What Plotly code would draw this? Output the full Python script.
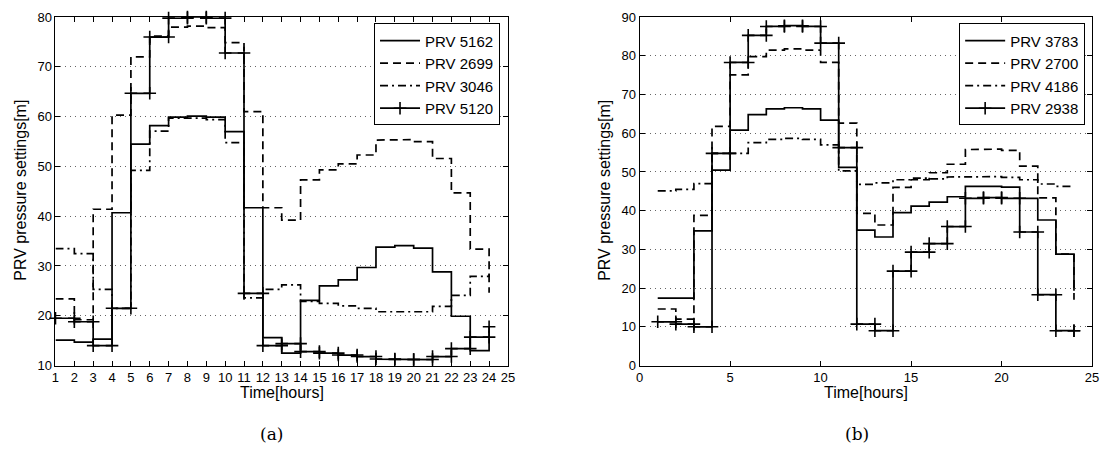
import plotly.graph_objects as go

# ---------------- data ----------------
hours = list(range(1, 25))

# (a)
prv_5162 = [15.1, 14.7, 15.3, 40.7, 54.5, 58.2, 59.9, 60.1, 59.9, 57.0, 41.7, 15.6,
            12.5, 23.1, 26.0, 27.2, 29.7, 33.8, 34.1, 33.6, 28.8, 19.9, 13.0, 15.5]
prv_2699 = [23.4, 19.2, 41.4, 60.3, 72.0, 76.2, 78.0, 78.2, 77.9, 74.9, 61.0, 41.7,
            39.2, 47.3, 49.3, 50.5, 52.3, 55.3, 55.4, 55.0, 51.6, 44.7, 33.4, 24.6]
prv_3046 = [33.5, 32.5, 25.3, 21.5, 49.2, 57.1, 59.7, 59.7, 59.4, 54.8, 23.6, 25.3,
            26.2, 22.9, 22.5, 22.0, 21.5, 20.8, 20.7, 20.8, 21.9, 24.1, 27.9, 28.5]
prv_5120 = [19.5, 18.8, 14.0, 21.5, 64.7, 76.0, 79.8, 80.0, 79.8, 72.8, 24.5, 14.0,
            14.4, 12.8, 12.5, 12.1, 11.8, 11.3, 11.2, 11.2, 11.8, 13.4, 15.7, 17.8]

# (b)
prv_3783 = [17.4, 17.4, 34.8, 50.5, 60.8, 64.8, 66.3, 66.6, 66.3, 63.4, 51.2, 35.0,
            33.2, 39.5, 41.2, 42.2, 43.6, 46.3, 46.3, 46.1, 43.2, 37.6, 28.8, 19.3]
prv_2700 = [14.6, 12.0, 38.8, 61.8, 75.1, 79.8, 81.5, 81.8, 81.5, 78.3, 62.6, 39.3,
            36.3, 46.0, 48.0, 49.8, 52.0, 55.8, 55.9, 55.6, 51.5, 43.3, 28.8, 17.0]
prv_4186 = [45.1, 45.5, 47.0, 54.8, 54.8, 57.6, 58.4, 58.7, 58.4, 57.0, 50.3, 46.8,
            47.2, 48.0, 48.4, 48.2, 48.7, 48.8, 48.8, 48.6, 48.0, 46.9, 46.3, 46.3]
prv_2938 = [11.3, 10.7, 10.0, 54.8, 78.3, 85.3, 87.6, 87.8, 87.6, 83.3, 56.3, 10.7,
            9.0, 24.4, 29.3, 31.5, 35.9, 43.2, 43.4, 43.2, 34.5, 18.3, 9.0, 9.0]

left_names = ["PRV 5162", "PRV 2699", "PRV 3046", "PRV 5120"]
right_names = ["PRV 3783", "PRV 2700", "PRV 4186", "PRV 2938"]

x_ticks_a = list(range(1, 26))
y_ticks_a = list(range(10, 81, 10))
x_ticks_b = list(range(0, 26, 5))
y_ticks_b = list(range(0, 91, 10))


def stairs(x, y):
    """MATLAB-style stairs: vertices of the step line."""
    xx, yy = [], []
    for i in range(len(x)):
        if i > 0:
            xx.append(x[i]); yy.append(y[i - 1])
        xx.append(x[i]); yy.append(y[i])
    return xx, yy


DASH = "8px,5px"
DASHDOT = "8px,4px,2px,4px"
styles = [("solid", False), (DASH, False), (DASHDOT, False), ("solid", True)]
LW = 1.7

fig = go.Figure()


def add_series(vals, name, style, xa, ya, legend):
    dash, mark = style
    xx, yy = stairs(hours, vals)
    fig.add_trace(go.Scatter(
        x=xx, y=yy, name=name, xaxis=xa, yaxis=ya, legend=legend,
        mode="lines+markers" if mark else "lines",
        line=dict(color="black", width=LW, dash=dash),
        marker=dict(symbol="cross-thin", size=9, color="black",
                    line=dict(color="black", width=1.6)) if mark else None,
        cliponaxis=False,
    ))


for vals, name, st in zip([prv_5162, prv_2699, prv_3046, prv_5120], left_names, styles):
    add_series(vals, name, st, "x", "y", "legend")
for vals, name, st in zip([prv_3783, prv_2700, prv_4186, prv_2938], right_names, styles):
    add_series(vals, name, st, "x2", "y2", "legend2")

W, H = 1107, 464
ydom = [1 - 370.5 / H, 1 - 10.5 / H]
axis_common = dict(
    showline=True, linecolor="black", linewidth=1, mirror="ticks",
    ticks="inside", ticklen=5, tickwidth=1, tickcolor="black",
    zeroline=False,
    tickfont=dict(family="Liberation Sans, Arial", size=13, color="black"),
)

leg_font = dict(family="Liberation Sans, Arial", size=15, color="black")

fig.update_layout(
    width=W, height=H,
    margin=dict(l=0, r=0, t=0, b=0),
    paper_bgcolor="white", plot_bgcolor="white",
    xaxis=dict(domain=[52 / W, 509 / W], range=[1, 25], tickvals=x_ticks_a,
               showgrid=False, anchor="y", **axis_common),
    yaxis=dict(domain=ydom, range=[10, 80], tickvals=y_ticks_a,
               showgrid=True, gridcolor="#666", griddash="1px,4px", gridwidth=1,
               anchor="x", **axis_common),
    xaxis2=dict(domain=[642 / W, 1099 / W], range=[0, 25], tickvals=x_ticks_b,
                showgrid=False, anchor="y2", **axis_common),
    yaxis2=dict(domain=ydom, range=[0, 90], tickvals=y_ticks_b,
                showgrid=True, gridcolor="#666", griddash="1px,4px", gridwidth=1,
                anchor="x2", **axis_common),
    legend=dict(x=501 / W, xanchor="right", y=1 - 17 / H, yanchor="top",
                bgcolor="white", bordercolor="black", borderwidth=1,
                font=leg_font, itemwidth=40, tracegroupgap=0),
    legend2=dict(x=1092 / W, xanchor="right", y=1 - 17 / H, yanchor="top",
                 bgcolor="white", bordercolor="black", borderwidth=1,
                 font=leg_font, itemwidth=40, tracegroupgap=0),
    showlegend=True,
)

lab_font = dict(family="Liberation Sans, Arial", size=16, color="black")
ser_font = dict(family="DejaVu Serif, Liberation Serif", size=17, color="black")
ann = [
    dict(text="Time[hours]", x=280.5 / W, y=1 - 398 / H, xref="paper", yref="paper",
         showarrow=False, font=lab_font, xanchor="center", yanchor="middle"),
    dict(text="Time[hours]", x=870.5 / W, y=1 - 398 / H, xref="paper", yref="paper",
         showarrow=False, font=lab_font, xanchor="center", yanchor="middle"),
    dict(text="PRV pressure settings[m]", x=17 / W, y=1 - 189 / H, xref="paper", yref="paper",
         showarrow=False, font=lab_font, textangle=-90, xanchor="center", yanchor="middle"),
    dict(text="PRV pressure settings[m]", x=607 / W, y=1 - 189 / H, xref="paper", yref="paper",
         showarrow=False, font=lab_font, textangle=-90, xanchor="center", yanchor="middle"),
    dict(text="(a)", x=270 / W, y=1 - 441 / H, xref="paper", yref="paper",
         showarrow=False, font=ser_font, xanchor="center", yanchor="middle"),
    dict(text="(b)", x=862 / W, y=1 - 441 / H, xref="paper", yref="paper",
         showarrow=False, font=ser_font, xanchor="center", yanchor="middle"),
]
fig.update_layout(annotations=ann)

fig.write_html("out.html")
